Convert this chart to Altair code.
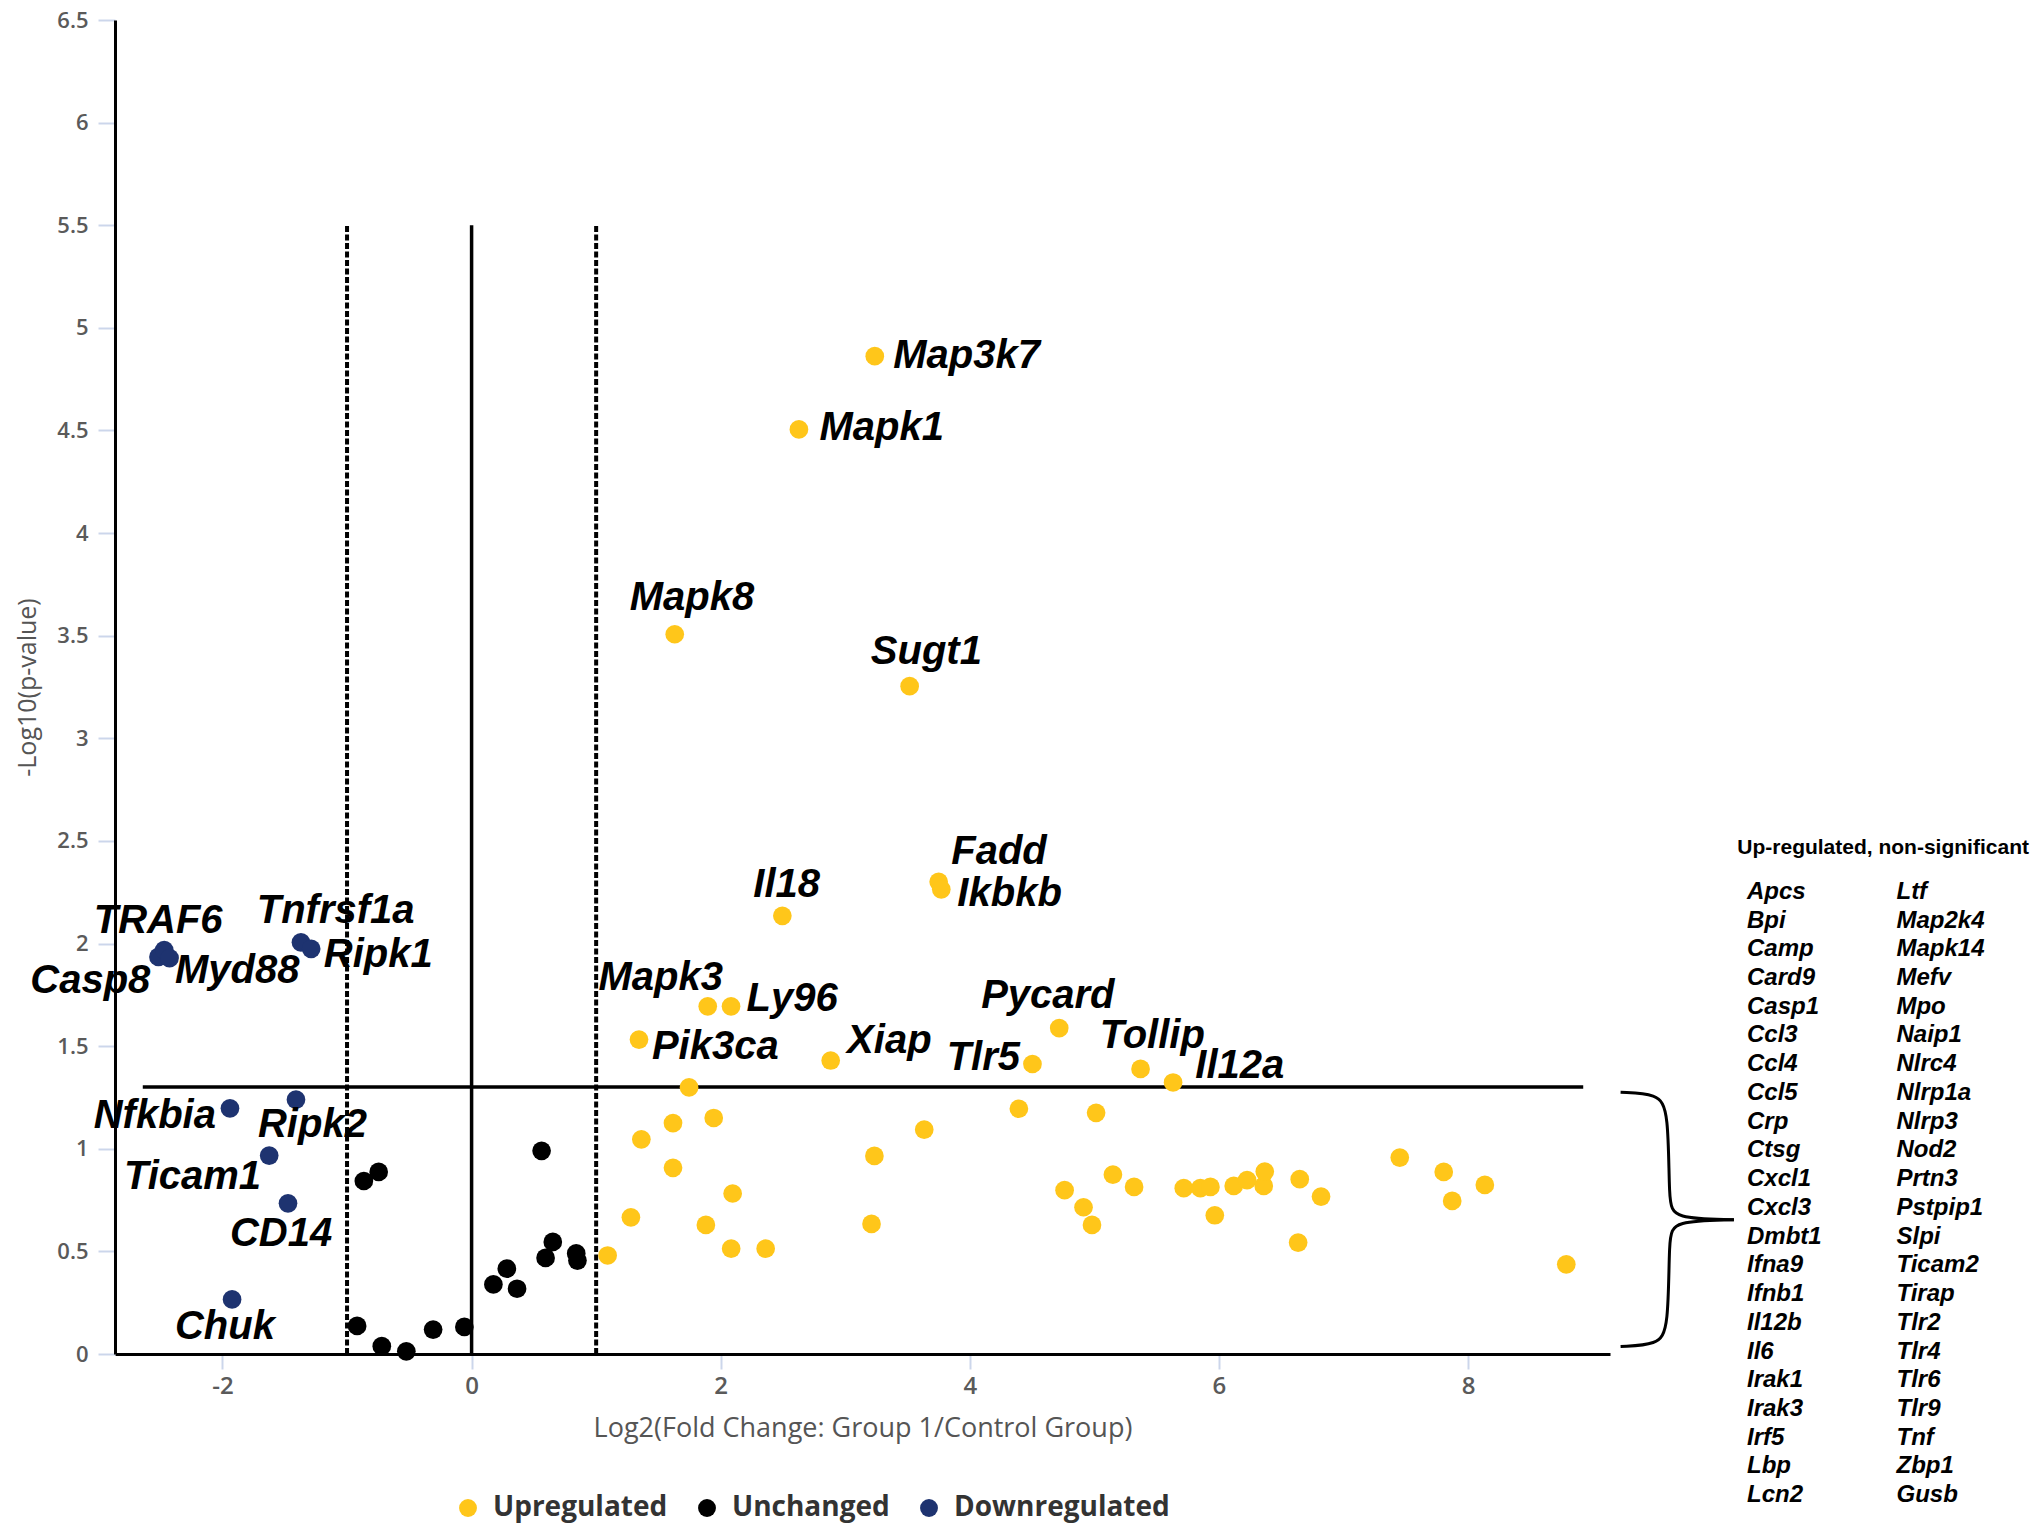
import altair as alt
import pandas as pd

# ---------------- data ----------------
# significant up-regulated genes
up_sig_genes = ["Map3k7", "Mapk1", "Mapk8", "Sugt1", "Il18", "Fadd", "Ikbkb", "Mapk3",
                "Ly96", "Pik3ca", "Xiap", "Pycard", "Tlr5", "Tollip", "Il12a"]
up_sig_x = [3.237, 2.628, 1.631, 3.517, 2.495, 3.750, 3.771, 1.896,
            2.083, 1.344, 2.883, 4.718, 4.503, 5.371, 5.632]
up_sig_y = [4.862, 4.505, 3.507, 3.254, 2.135, 2.301, 2.264, 1.694,
            1.694, 1.532, 1.430, 1.588, 1.413, 1.389, 1.323]

# non-significant up-regulated genes
up_ns_x = [1.746, 1.944, 1.617, 1.363, 1.617, 2.096, 1.279, 1.881, 2.084, 2.361, 1.092,
           3.234, 3.211, 3.634, 4.394, 5.014, 4.761, 4.913, 4.981, 5.149, 5.319,
           5.718, 5.851, 5.932, 5.967, 6.119, 6.226, 6.360, 6.368, 6.649, 6.636, 6.820,
           7.452, 7.805, 7.873, 8.135, 8.789]
up_ns_y = [1.299, 1.150, 1.125, 1.046, 0.907, 0.782, 0.666, 0.629, 0.513, 0.513, 0.480,
           0.965, 0.634, 1.093, 1.195, 1.175, 0.798, 0.715, 0.629, 0.874, 0.814,
           0.808, 0.808, 0.814, 0.676, 0.819, 0.847, 0.819, 0.889, 0.852, 0.543, 0.767,
           0.957, 0.887, 0.746, 0.824, 0.437]

# unchanged genes
unch_x = [-0.865, -0.746, -0.919, -0.721, -0.524, -0.309, -0.058, 0.175, 0.283, 0.365,
          0.562, 0.594, 0.652, 0.840, 0.850]
unch_y = [0.843, 0.887, 0.137, 0.038, 0.013, 0.119, 0.132, 0.339, 0.416, 0.318,
          0.990, 0.468, 0.546, 0.490, 0.455]

# down-regulated genes
down_genes = ["Casp8", "TRAF6", "Myd88", "Tnfrsf1a", "Ripk1", "Nfkbia", "Ripk2", "Ticam1", "CD14", "Chuk"]
down_x = [-2.514, -2.468, -2.425, -1.370, -1.288, -1.940, -1.410, -1.625, -1.474, -1.923]
down_y = [1.935, 1.968, 1.929, 2.006, 1.974, 1.197, 1.239, 0.967, 0.734, 0.266]

# gene label anchors (data units)
label_text = ["TRAF6", "Casp8", "Myd88", "Tnfrsf1a", "Ripk1", "Nfkbia", "Ripk2", "Ticam1", "CD14", "Chuk",
              "Map3k7", "Mapk1", "Mapk8", "Sugt1", "Il18", "Fadd", "Ikbkb", "Mapk3", "Ly96",
              "Pik3ca", "Xiap", "Pycard", "Tlr5", "Tollip", "Il12a"]
label_x = [-3.034, -3.543, -2.382, -1.725, -1.187, -3.034, -1.715, -2.791, -1.940, -2.382,
           3.385, 2.793, 1.269, 3.205, 2.262, 3.851, 3.900, 1.018, 2.208,
           1.448, 3.015, 4.091, 3.814, 5.043, 5.811]
label_y = [2.053, 1.761, 1.808, 2.102, 1.885, 1.102, 1.058, 0.804, 0.527, 0.073,
           4.803, 4.454, 3.626, 3.360, 2.226, 2.388, 2.184, 1.773, 1.669,
           1.438, 1.468, 1.687, 1.384, 1.489, 1.347]

# thresholds
fc_dashed = [-1, 1]
fc_center = [0]
p_thresh = 1.301

# list of up-regulated, non-significant genes
ns_title = "Up-regulated, non-significant"
ns_col1 = ["Apcs", "Bpi", "Camp", "Card9", "Casp1", "Ccl3", "Ccl4", "Ccl5", "Crp", "Ctsg", "Cxcl1",
           "Cxcl3", "Dmbt1", "Ifna9", "Ifnb1", "Il12b", "Il6", "Irak1", "Irak3", "Irf5", "Lbp", "Lcn2"]
ns_col2 = ["Ltf", "Map2k4", "Mapk14", "Mefv", "Mpo", "Naip1", "Nlrc4", "Nlrp1a", "Nlrp3", "Nod2", "Prtn3",
           "Pstpip1", "Slpi", "Ticam2", "Tirap", "Tlr2", "Tlr4", "Tlr6", "Tlr9", "Tnf", "Zbp1", "Gusb"]

statuses = ["Upregulated", "Unchanged", "Downregulated"]
colors = ["#FFC61A", "#000000", "#1E3370"]

# ---------------- tables ----------------
pts = pd.DataFrame({
    "x": up_sig_x + up_ns_x + unch_x + down_x,
    "y": up_sig_y + up_ns_y + unch_y + down_y,
    "status": ["Upregulated"] * (len(up_sig_x) + len(up_ns_x))
              + ["Unchanged"] * len(unch_x) + ["Downregulated"] * len(down_x),
})
labels = pd.DataFrame({"x": label_x, "y": label_y, "t": label_text})
vdash = pd.DataFrame({"x": fc_dashed, "y": [0] * 2, "y2": [5.5] * 2})
vsolid = pd.DataFrame({"x": fc_center, "y": [0], "y2": [5.5]})
hline = pd.DataFrame({"x": [-2.64], "x2": [8.925], "y": [p_thresh]})

row_step = 0.14
list_rows = []
for i, g in enumerate(ns_col1):
    list_rows.append({"x": 10.24, "y": 2.252 - i * row_step, "t": g})
for i, g in enumerate(ns_col2):
    list_rows.append({"x": 11.44, "y": 2.252 - i * row_step, "t": g})
genelist = pd.DataFrame(list_rows)
header = pd.DataFrame({"x": [10.162], "y": [2.467], "t": [ns_title]})

brace = pd.DataFrame({
    "x": [9.225, 9.52, 9.612, 9.612, 9.65, 10.135,
          9.225, 9.52, 9.612, 9.612, 9.65, 10.135],
    "y": [1.275, 1.268, 1.19, 0.74, 0.66, 0.654,
          0.037, 0.045, 0.12, 0.57, 0.648, 0.654],
    "o": list(range(6)) * 2,
    "part": ["top"] * 6 + ["bottom"] * 6,
})

# ---------------- encodings ----------------
xs = alt.Scale(domain=[-2.863, 9.14], nice=False, zero=False)
ys = alt.Scale(domain=[0, 6.5], nice=False, zero=False)
xaxis = alt.Axis(values=[-2, 0, 2, 4, 6, 8], labelExpr="toString(datum.value)",
                 title="Log2(Fold Change: Group 1/Control Group)")
yaxis = alt.Axis(values=[0, 0.5, 1, 1.5, 2, 2.5, 3, 3.5, 4, 4.5, 5, 5.5, 6, 6.5],
                 labelExpr="toString(datum.value)", title="-Log10(p-value)")
X = alt.X("x:Q", scale=xs, axis=xaxis, title="Log2(Fold Change: Group 1/Control Group)")
Y = alt.Y("y:Q", scale=ys, axis=yaxis, title="-Log10(p-value)")

rules_dash = alt.Chart(vdash).mark_rule(color="black", strokeWidth=4, strokeDash=[6, 2.5]).encode(
    x=X, y=Y, y2="y2:Q")
rule_solid = alt.Chart(vsolid).mark_rule(color="black", strokeWidth=3.5).encode(x=X, y=Y, y2="y2:Q")
rule_h = alt.Chart(hline).mark_rule(color="black", strokeWidth=3.5).encode(x=X, x2="x2:Q", y=Y)

points = alt.Chart(pts).mark_circle(size=350, opacity=1).encode(
    x=X, y=Y,
    color=alt.Color("status:N", scale=alt.Scale(domain=statuses, range=colors),
                    sort=statuses,
                    legend=alt.Legend(title=None, orient="none", direction="horizontal",
                                      legendX=339, legendY=1474, symbolType="circle",
                                      symbolSize=320, symbolStrokeWidth=0, symbolOpacity=1,
                                      labelFont="Open Sans", labelFontSize=28,
                                      labelFontWeight="bold", labelColor="#333333",
                                      labelLimit=0, labelOffset=11, columnPadding=25,
                                      padding=0)),
)

label_layer = alt.Chart(labels).mark_text(
    align="left", baseline="alphabetic", font="Liberation Sans", fontSize=40,
    fontStyle="italic", fontWeight="bold", color="black").encode(x=X, y=Y, text="t:N")

list_layer = alt.Chart(genelist).mark_text(
    align="left", baseline="middle", font="Liberation Sans", fontSize=24,
    fontStyle="italic", fontWeight="bold", color="black").encode(x=X, y=Y, text="t:N")

header_layer = alt.Chart(header).mark_text(
    align="left", baseline="middle", font="Liberation Sans", fontSize=21,
    fontWeight="bold", color="black").encode(x=X, y=Y, text="t:N")

brace_layer = alt.Chart(brace).mark_line(color="black", strokeWidth=3, interpolate="basis").encode(
    x=X, y=Y, order="o:Q", detail="part:N")

chart = alt.layer(
    rules_dash, rule_solid, rule_h, points, label_layer, list_layer, header_layer, brace_layer
).properties(
    width=1495, height=1334,
    padding={"left": 107, "top": 12, "right": 420, "bottom": 170},
    autosize=alt.AutoSizeParams(type="none"),
).configure_view(stroke=None).configure_axis(
    grid=False,
    domainColor="black", domainWidth=3,
    tickColor="#ccd6eb", tickWidth=2,
    labelFont="Open Sans", labelColor="#5a5a5a", labelFontWeight=600,
    titleFont="Open Sans", titleFontWeight="normal", titleColor="#555555",
).configure_axisX(
    tickSize=15, labelPadding=5, titlePadding=17, labelFlush=False,
    labelFontSize=24, titleFontSize=27,
).configure_axisY(
    tickSize=17, labelPadding=10, titlePadding=16,
    labelFontSize=22, titleFontSize=25,
)

chart.save("out.html", embed_options={"renderer": "svg", "actions": False})
